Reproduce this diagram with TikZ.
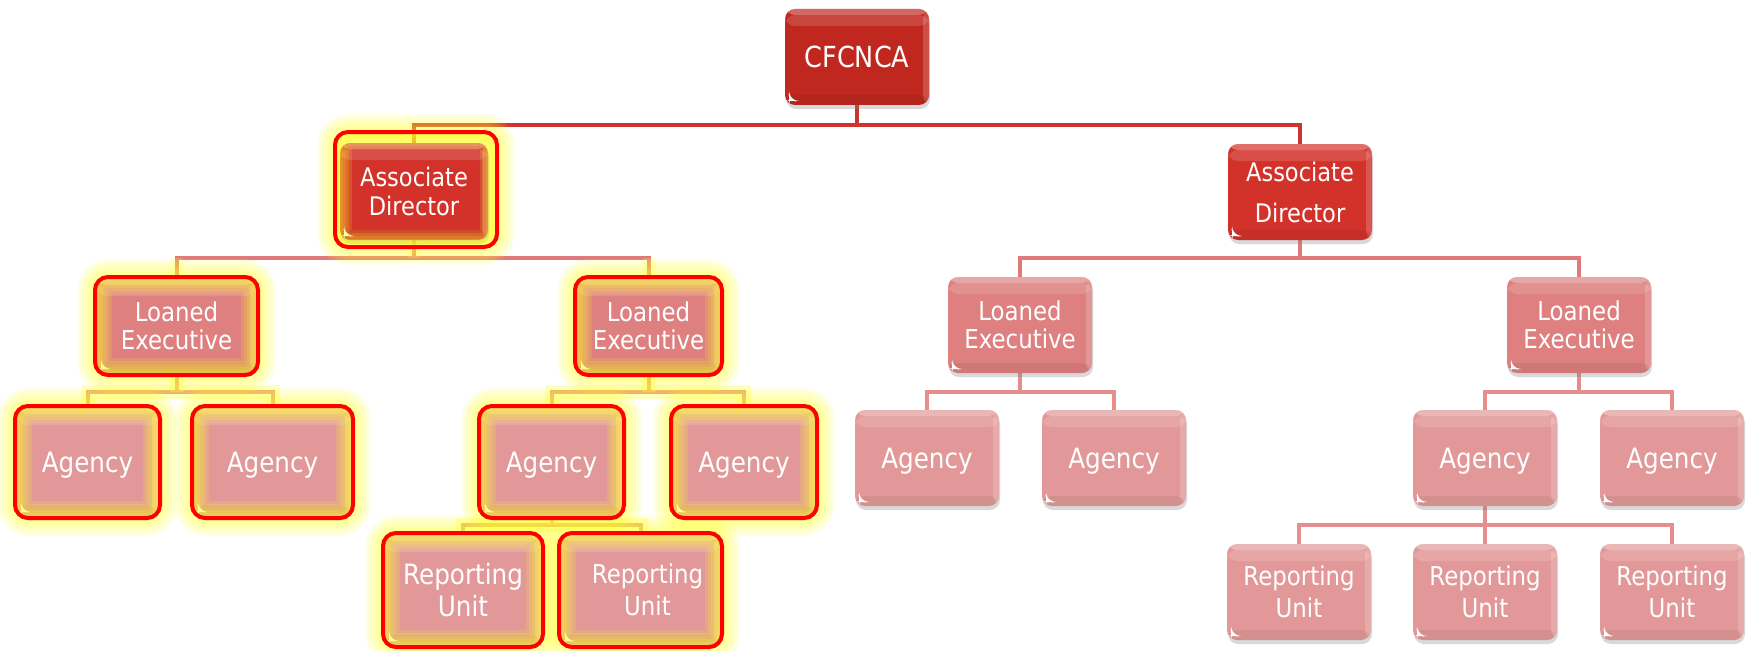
\documentclass[tikz,border=0pt]{standalone}
\usepackage{fontspec}
\setmainfont{DejaVu Sans}[FakeStretch=0.88]
\usetikzlibrary{shadows,calc}
\pgfdeclarelayer{lines}
\pgfdeclarelayer{glow}
\pgfdeclarelayer{front}
\pgfsetlayers{lines,glow,main,front}
\definecolor{cRoot}{RGB}{192,40,31}
\definecolor{cAD}{RGB}{211,50,42}
\definecolor{cLE}{RGB}{222,128,128}
\definecolor{cAG}{RGB}{226,152,152}
\definecolor{lnTop}{RGB}{205,52,45}
\definecolor{lnMid}{RGB}{224,122,122}
\definecolor{lnLow}{RGB}{228,142,142}
\definecolor{hlred}{RGB}{255,0,0}
\definecolor{glowy}{RGB}{255,255,40}
\tikzset{
  gloss/.style={path picture={
    \fill[white,opacity=0.30] (path picture bounding box.north west) rectangle ([yshift=-6pt]path picture bounding box.north east);
    \fill[white,opacity=0.14] ([yshift=-6pt]path picture bounding box.north west) rectangle ([yshift=-17pt]path picture bounding box.north east);
    \fill[white,opacity=0.18] ([xshift=-6pt]path picture bounding box.north east) rectangle (path picture bounding box.south east);
    \fill[black,opacity=0.06] ([yshift=10pt]path picture bounding box.south west) rectangle (path picture bounding box.south east);
    \fill[white] ([shift={(4pt,4pt)}]path picture bounding box.south west) -- ++(6pt,0pt) -- ++(-6pt,6pt) -- cycle;
  }},
  box/.style={rounded corners=10pt, minimum width=144pt, minimum height=96pt,
    inner sep=0pt, align=center, text=white, font=\fontsize{26}{29}\selectfont,
    drop shadow={opacity=0.3,shadow xshift=1pt,shadow yshift=-4pt}, gloss},
  rootbox/.style={box, fill=cRoot, text depth=0pt, font=\fontsize{29}{32}\selectfont},
  adbox/.style={box, fill=cAD, font=\fontsize{25.6}{29}\selectfont},
  lebox/.style={box, fill=cLE, font=\fontsize{26}{28}\selectfont},
  agbox/.style={box, fill=cAG, text depth=0pt, font=\fontsize{28}{31}\selectfont},
  rubox/.style={box, fill=cAG, font=\fontsize{26}{32}\selectfont},
  conntop/.style={draw=lnTop, line width=4pt},
  connmid/.style={draw=lnMid, line width=4pt},
  connlow/.style={draw=lnLow, line width=4pt},
  glowline/.style={draw=glowy, line width=14pt, opacity=0.3},
  glowlinesoft/.style={draw=glowy, line width=12pt, opacity=0.2},
}
\newcommand\hlglow[4]{%
  \begin{pgfonlayer}{glow}
    \foreach \e in {18,15,12,9,6,3}{%
      \fill[glowy,opacity=0.11,rounded corners=14pt+\e pt] (#1-\e,#2-\e) rectangle (#3+\e,#4+\e);}
  \end{pgfonlayer}
  \begin{pgfonlayer}{front}
    \begin{scope}
      \clip[rounded corners=13pt] (#1,#2) rectangle (#3,#4);
      \foreach \w in {34,28,22,16,10,5}{%
        \draw[glowy,opacity=0.15,line width=\w pt,rounded corners=13pt] (#1,#2) rectangle (#3,#4);}
    \end{scope}
    \draw[hlred,line width=4pt,rounded corners=13pt] (#1,#2) rectangle (#3,#4);
  \end{pgfonlayer}}
\begin{document}
\begin{tikzpicture}[x=1pt,y=-1pt]
\useasboundingbox (0,0) rectangle (1752,650);
\coordinate (L1) at (0,125);
\coordinate (L2) at (0,258);
\coordinate (L3) at (0,392);
\coordinate (L4) at (0,525);
% nodes
\node[rootbox] (cf) at (857,57) {CFCNCA};
\node[adbox, minimum width=148pt, minimum height=97pt] (ad1) at (414,191.5) {Associate\\Director};
\node[adbox, font=\fontsize{25.6}{41}\selectfont] (ad2) at (1300,192) {Associate\\Director};
\node[lebox, minimum width=159pt, minimum height=94pt] (le1) at (176.5,326) {Loaned\\Executive};
\node[lebox, minimum width=143pt, minimum height=94pt] (le2) at (648.5,326) {Loaned\\Executive};
\node[lebox] (le3) at (1020,325) {Loaned\\Executive};
\node[lebox] (le4) at (1579,325) {Loaned\\Executive};
\node[agbox, minimum width=141pt, minimum height=108pt] (a1) at (87.5,462) {Agency};
\node[agbox, minimum width=157pt, minimum height=108pt] (a2) at (272.5,462) {Agency};
\node[agbox, minimum width=141pt, minimum height=108pt] (a3) at (551.5,462) {Agency};
\node[agbox, minimum width=142pt, minimum height=108pt] (a4) at (744,462) {Agency};
\node[agbox] (a5) at (927,458) {Agency};
\node[agbox] (a6) at (1114,458) {Agency};
\node[agbox] (a7) at (1485,458) {Agency};
\node[agbox] (a8) at (1672,458) {Agency};
\node[rubox, font=\fontsize{28}{32}\selectfont, minimum width=156pt, minimum height=110pt] (r1) at (463,590) {Reporting\\Unit};
\node[rubox, minimum width=159pt, minimum height=110pt] (r2) at (640.5,590) {\hspace*{14pt}Reporting\\\hspace*{14pt}Unit};
\node[rubox] (r3) at (1299,592) {Reporting\\Unit};
\node[rubox] (r4) at (1485,592) {Reporting\\Unit};
\node[rubox] (r5) at (1672,592) {Reporting\\Unit};
% highlights
\hlglow{335}{132}{497}{247}
\hlglow{95}{277}{258}{375}
\hlglow{575}{277}{722}{375}
\hlglow{15}{406}{160}{518}
\hlglow{192}{406}{353}{518}
\hlglow{479}{406}{624}{518}
\hlglow{671}{406}{817}{518}
\hlglow{383}{533}{543}{647}
\hlglow{559}{533}{722}{647}
% connectors
\begin{pgfonlayer}{lines}
\path[conntop] (cf.south) -- (cf.south |- L1);
\path[conntop] (ad1.north) -- (ad1.north |- L1) -- (ad2.north |- L1) -- (ad2.north);
\path[connmid] (ad1.south) -- (ad1.south |- L2);
\path[connmid] (le1.north) -- (le1.north |- L2) -- (le2.north |- L2) -- (le2.north);
\path[connmid] (ad2.south) -- (ad2.south |- L2);
\path[connmid] (le3.north) -- (le3.north |- L2) -- (le4.north |- L2) -- (le4.north);
\path[connlow] (le1.south) -- (le1.south |- L3);
\path[connlow] (a1.north) -- (a1.north |- L3) -- (a2.north |- L3) -- (a2.north);
\path[connlow] (le2.south) -- (le2.south |- L3);
\path[connlow] (a3.north) -- (a3.north |- L3) -- (a4.north |- L3) -- (a4.north);
\path[connlow] (le3.south) -- (le3.south |- L3);
\path[connlow] (a5.north) -- (a5.north |- L3) -- (a6.north |- L3) -- (a6.north);
\path[connlow] (le4.south) -- (le4.south |- L3);
\path[connlow] (a7.north) -- (a7.north |- L3) -- (a8.north |- L3) -- (a8.north);
\path[connlow] (a3.south) -- (a3.south |- L4);
\path[connlow] (r1.north) -- (r1.north |- L4) -- (r2.north |- L4) -- (r2.north);
\path[connlow] (a7.south) -- (a7.south |- L4);
\path[connlow] (r3.north) -- (r3.north |- L4) -- (r5.north |- L4) -- (r5.north);
\path[connlow] (r4.north) -- (r4.north |- L4);
\end{pgfonlayer}
\begin{pgfonlayer}{glow}
\path[glowlinesoft] (ad1.south) -- (ad1.south |- L2);
\path[glowlinesoft] (le1.north) -- (le1.north |- L2);
\path[glowlinesoft] (le2.north) -- (le2.north |- L2);
\path[glowline] (le1.south) -- (le1.south |- L3);
\path[glowline] (a1.north) -- (a1.north |- L3) -- (a2.north |- L3) -- (a2.north);
\path[glowline] (le2.south) -- (le2.south |- L3);
\path[glowline] (a3.north) -- (a3.north |- L3) -- (a4.north |- L3) -- (a4.north);
\path[glowline] (a3.south) -- (a3.south |- L4);
\path[glowline] (r1.north) -- (r1.north |- L4) -- (r2.north |- L4) -- (r2.north);
\end{pgfonlayer}
\end{tikzpicture}
\end{document}
